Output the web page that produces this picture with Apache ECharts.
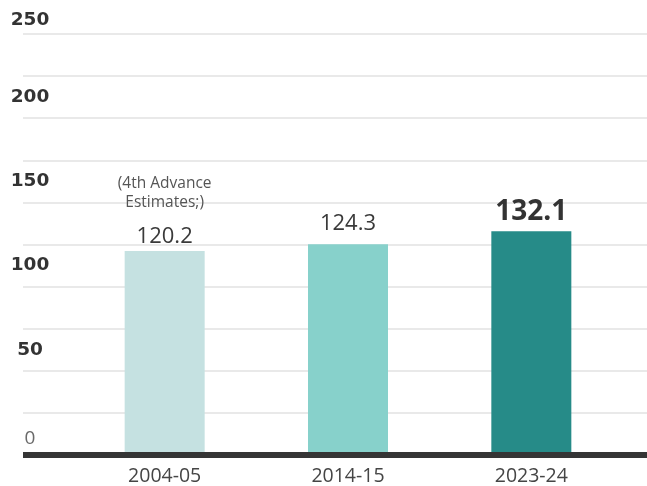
<!DOCTYPE html>
<html>
<head>
<meta charset="utf-8">
<script src="https://cdn.jsdelivr.net/npm/echarts@6/dist/echarts.min.js"></script>
<style>
  html, body { margin: 0; padding: 0; background: #fff; }
  #chart { width: 647px; height: 486px; }
</style>
</head>
<body>
<div id="chart"></div>
<script>
// Crop years and output values
const years = ['2004-05', '2014-15', '2023-24'];
const production = [120.2, 124.3, 132.1];
const noteLines = ['(4th Advance', 'Estimates;)'];

// Value axis range
const yMin = 0;
const yMax = 250;
const gridStep = 25;
const labelStep = 50;

const barColors = ['#c5e1e1', '#87d1cb', '#268b88'];
const FONT = '"Open Sans", "Noto Sans", sans-serif';
const TICK_FONT = '"DejaVu Sans", "Open Sans", sans-serif';

const chart = echarts.init(document.getElementById('chart'), null, { renderer: 'canvas' });

const barData = production.map((v, i) => {
  const item = { value: v, itemStyle: { color: barColors[i] } };
  if (i === 0) {
    item.label = {
      formatter: p => noteLines.map(t => '{note|' + t + '}').join('\n') + '\n{val|' + p.value + '}',
      distance: 3
    };
  } else if (i === production.length - 1) {
    item.label = {
      formatter: '{big|{c}}',
      distance: 5
    };
  } else {
    item.label = { formatter: '{val|{c}}', distance: 9 };
  }
  return item;
});

chart.setOption({
  animation: false,
  backgroundColor: '#ffffff',
  grid: [
    { left: 23, right: 0, top: 34, bottom: 31, containLabel: false },
    { left: 73, right: 24, top: 34, bottom: 31, containLabel: false }
  ],
  xAxis: [
    {
      gridIndex: 0, type: 'value', min: 0, max: 1,
      axisLine: { show: true, onZero: false, lineStyle: { color: '#353535', width: 6, cap: 'butt' } },
      axisTick: { show: false }, axisLabel: { show: false }, splitLine: { show: false }
    },
    {
      gridIndex: 1, type: 'category', data: years,
      axisLine: { show: false }, axisTick: { show: false },
      axisLabel: { margin: 14, fontFamily: FONT, fontSize: 19.5, color: '#454545' }
    }
  ],
  yAxis: [
    {
      gridIndex: 0, type: 'value', min: yMin, max: yMax, interval: gridStep,
      axisLine: { show: false }, axisTick: { show: false },
      splitLine: { show: true, lineStyle: { color: '#e9e9e9', width: 2 } },
      axisLabel: {
        inside: true, margin: 7, align: 'center', verticalAlign: 'middle',
        formatter: v => {
          if (v % labelStep !== 0) return '';
          if (v === yMin) return '{z|' + v + '}';
          if (v === yMax) return '{t|' + v + '}';
          return '{b|' + v + '}';
        },
        rich: {
          b: { fontFamily: TICK_FONT, fontWeight: 'bold', fontSize: 18.5, color: '#333', padding: [0, 0, 42, 0] },
          t: { fontFamily: TICK_FONT, fontWeight: 'bold', fontSize: 18.5, color: '#333', padding: [0, 0, 27, 0] },
          z: { fontFamily: FONT, fontSize: 19, color: '#6a6a6a', padding: [0, 0, 32, 0] }
        }
      }
    },
    {
      gridIndex: 1, type: 'value', min: yMin, max: yMax, show: false,
      splitLine: { show: false }
    }
  ],
  series: [{
    type: 'bar',
    xAxisIndex: 1, yAxisIndex: 1,
    barWidth: 80,
    data: barData,
    label: {
      show: true, position: 'top',
      rich: {
        note: { fontFamily: FONT, fontSize: 15.5, color: '#555', lineHeight: 19 },
        val: { fontFamily: FONT, fontSize: 22, color: '#3a3a3a', lineHeight: 36, verticalAlign: 'bottom' },
        big: { fontFamily: FONT, fontSize: 28, fontWeight: 'bold', color: '#333' }
      }
    }
  }]
});
</script>
</body>
</html>
